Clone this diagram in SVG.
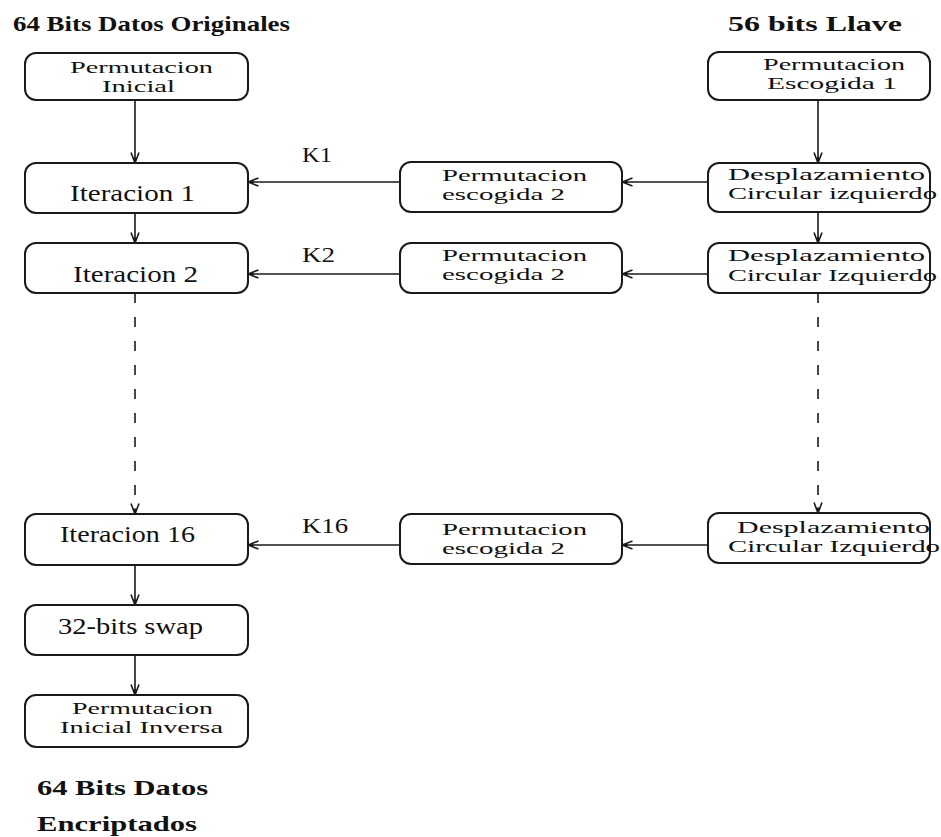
<svg xmlns="http://www.w3.org/2000/svg" width="941" height="837" viewBox="0 0 941 837">
  <defs>
    <style>
      .box { fill: #fff; stroke: #1a1a1a; stroke-width: 2; }
      .lbl { font-family: "Liberation Serif", "DejaVu Serif", serif; font-size: 17px; fill: #111; }
      .big { font-size: 23px; }
      .ttl { font-family: "Liberation Serif", "DejaVu Serif", serif; font-size: 22px; font-weight: bold; fill: #111; }
      .klb { font-family: "Liberation Serif", "DejaVu Serif", serif; font-size: 21px; fill: #111; }
      .wire { fill: none; stroke: #1a1a1a; stroke-width: 1.6; }
      .dash { stroke-dasharray: 10 14; }
    </style>
    <marker id="arr" viewBox="0 0 12 10" refX="11.5" refY="5" markerWidth="12" markerHeight="10" markerUnits="userSpaceOnUse" orient="auto">
      <path d="M1,1 L11.5,5 L1,9" fill="none" stroke="#1a1a1a" stroke-width="1.6"/>
      <path d="M6,3.2 L11.5,5 L6,6.8 Z" fill="#1a1a1a"/>
    </marker>
  </defs>
  <rect width="941" height="837" fill="#fff"/>

  <!-- headings -->
  <text class="ttl" x="13" y="31" textLength="277" lengthAdjust="spacingAndGlyphs">64 Bits Datos Originales</text>
  <text class="ttl" x="728" y="31" textLength="174" lengthAdjust="spacingAndGlyphs">56 bits Llave</text>
  <text class="ttl" x="37" y="795" textLength="171" lengthAdjust="spacingAndGlyphs">64 Bits Datos</text>
  <text class="ttl" x="37" y="831" textLength="160" lengthAdjust="spacingAndGlyphs">Encriptados</text>

  <!-- connectors -->
  <g id="connectors">
    <!-- data path -->
    <line class="wire" x1="135" y1="100" x2="135" y2="163" marker-end="url(#arr)"/>
    <line class="wire" x1="135" y1="213" x2="135" y2="243" marker-end="url(#arr)"/>
    <line class="wire dash" x1="135" y1="293" x2="135" y2="514" marker-end="url(#arr)"/>
    <line class="wire" x1="135" y1="565" x2="135" y2="605" marker-end="url(#arr)"/>
    <line class="wire" x1="135" y1="655" x2="135" y2="695" marker-end="url(#arr)"/>
    <!-- key path -->
    <line class="wire" x1="818" y1="100" x2="818" y2="163" marker-end="url(#arr)"/>
    <line class="wire" x1="818" y1="212" x2="818" y2="243" marker-end="url(#arr)"/>
    <line class="wire dash" x1="818" y1="293" x2="818" y2="513" marker-end="url(#arr)"/>
    <!-- subkeys -->
    <line class="wire" x1="708" y1="182" x2="622" y2="182" marker-end="url(#arr)"/>
    <line class="wire" x1="400" y1="182" x2="248" y2="182" marker-end="url(#arr)"/>
    <line class="wire" x1="708" y1="274" x2="622" y2="274" marker-end="url(#arr)"/>
    <line class="wire" x1="400" y1="274" x2="248" y2="274" marker-end="url(#arr)"/>
    <line class="wire" x1="708" y1="545" x2="622" y2="545" marker-end="url(#arr)"/>
    <line class="wire" x1="400" y1="545" x2="248" y2="545" marker-end="url(#arr)"/>
    <text class="klb" x="302" y="162" textLength="30" lengthAdjust="spacingAndGlyphs">K1</text>
    <text class="klb" x="302" y="262" textLength="33" lengthAdjust="spacingAndGlyphs">K2</text>
    <text class="klb" x="302" y="533" textLength="46" lengthAdjust="spacingAndGlyphs">K16</text>
  </g>

  <!-- data path nodes -->
  <g id="perm-inicial">
    <rect class="box" x="25" y="53" width="223" height="47" rx="11"/>
    <text class="lbl" x="70" y="73" textLength="143" lengthAdjust="spacingAndGlyphs">Permutacion</text>
    <text class="lbl" x="102" y="92" textLength="73" lengthAdjust="spacingAndGlyphs">Inicial</text>
  </g>
  <g id="iter-1">
    <rect class="box" x="25" y="163" width="223" height="50" rx="11"/>
    <text class="lbl big" x="70" y="201" textLength="125" lengthAdjust="spacingAndGlyphs">Iteracion  1</text>
  </g>
  <g id="iter-2">
    <rect class="box" x="25" y="243" width="223" height="50" rx="11"/>
    <text class="lbl big" x="73" y="282" textLength="125" lengthAdjust="spacingAndGlyphs">Iteracion  2</text>
  </g>
  <g id="iter-16">
    <rect class="box" x="25" y="514" width="223" height="51" rx="11"/>
    <text class="lbl big" x="60" y="542" textLength="135" lengthAdjust="spacingAndGlyphs">Iteracion 16</text>
  </g>
  <g id="swap">
    <rect class="box" x="25" y="605" width="223" height="50" rx="11"/>
    <text class="lbl big" x="58" y="634" textLength="145" lengthAdjust="spacingAndGlyphs">32-bits swap</text>
  </g>
  <g id="perm-inversa">
    <rect class="box" x="25" y="695" width="223" height="52" rx="11"/>
    <text class="lbl" x="72" y="714" textLength="141" lengthAdjust="spacingAndGlyphs">Permutacion</text>
    <text class="lbl" x="60" y="733" textLength="163" lengthAdjust="spacingAndGlyphs">Inicial Inversa</text>
  </g>

  <!-- subkey selection nodes -->
  <g id="pc2-1">
    <rect class="box" x="400" y="162" width="222" height="50" rx="11"/>
    <text class="lbl" x="442" y="181" textLength="145" lengthAdjust="spacingAndGlyphs">Permutacion</text>
    <text class="lbl" x="442" y="200" textLength="123" lengthAdjust="spacingAndGlyphs">escogida 2</text>
  </g>
  <g id="pc2-2">
    <rect class="box" x="400" y="243" width="222" height="50" rx="11"/>
    <text class="lbl" x="442" y="261" textLength="145" lengthAdjust="spacingAndGlyphs">Permutacion</text>
    <text class="lbl" x="442" y="280" textLength="123" lengthAdjust="spacingAndGlyphs">escogida 2</text>
  </g>
  <g id="pc2-16">
    <rect class="box" x="400" y="514" width="222" height="50" rx="11"/>
    <text class="lbl" x="442" y="535" textLength="145" lengthAdjust="spacingAndGlyphs">Permutacion</text>
    <text class="lbl" x="442" y="554" textLength="123" lengthAdjust="spacingAndGlyphs">escogida 2</text>
  </g>

  <!-- key schedule nodes -->
  <g id="pc1">
    <rect class="box" x="708" y="52" width="222" height="48" rx="11"/>
    <text class="lbl" x="763" y="70" textLength="142" lengthAdjust="spacingAndGlyphs">Permutacion</text>
    <text class="lbl" x="767" y="89" textLength="130" lengthAdjust="spacingAndGlyphs">Escogida 1</text>
  </g>
  <g id="shift-1">
    <rect class="box" x="708" y="163" width="222" height="49" rx="11"/>
    <text class="lbl" x="728" y="180" textLength="197" lengthAdjust="spacingAndGlyphs">Desplazamiento</text>
    <text class="lbl" x="728" y="199" textLength="209" lengthAdjust="spacingAndGlyphs">Circular izquierdo</text>
  </g>
  <g id="shift-2">
    <rect class="box" x="708" y="243" width="222" height="50" rx="11"/>
    <text class="lbl" x="728" y="261" textLength="197" lengthAdjust="spacingAndGlyphs">Desplazamiento</text>
    <text class="lbl" x="728" y="281" textLength="209" lengthAdjust="spacingAndGlyphs">Circular Izquierdo</text>
  </g>
  <g id="shift-16">
    <rect class="box" x="708" y="513" width="222" height="50" rx="11"/>
    <text class="lbl" x="737" y="533" textLength="193" lengthAdjust="spacingAndGlyphs">Desplazamiento</text>
    <text class="lbl" x="728" y="552" textLength="212" lengthAdjust="spacingAndGlyphs">Circular Izquierdo</text>
  </g>
</svg>
